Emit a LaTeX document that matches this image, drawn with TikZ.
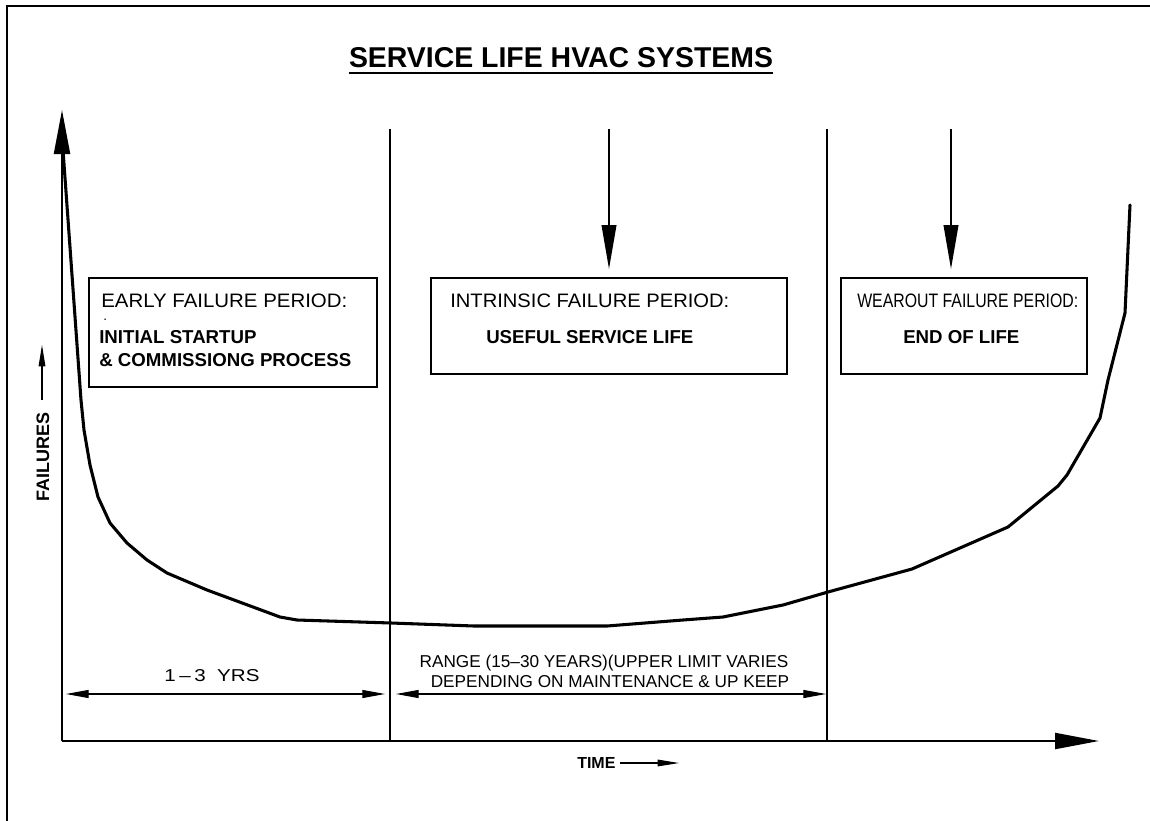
\documentclass[tikz,border=0pt]{standalone}
\usepackage{graphicx}
\usepackage{fontspec}
\setmainfont{Liberation Sans}
\usetikzlibrary{arrows.meta}
\newcommand\fitwidth[2]{\resizebox{#1}{\height}{#2}}
\begin{document}
\begin{tikzpicture}[x=0.75pt,y=-0.75pt,
  frame/.style={line width=2pt},
  axis/.style={line width=1.6pt, -{Triangle[length=33pt,width=12pt]}},
  divider/.style={line width=0.9pt},
  downarrow/.style={line width=1.3pt, -{Triangle[length=33pt,width=11pt]}},
  dimline/.style={line width=0.8pt, {Triangle[length=17pt,width=6pt]}-{Triangle[length=17pt,width=6pt]}},
  smallarrow/.style={line width=0.8pt, -{Triangle[length=16pt,width=5pt]}},
  curve/.style={line width=2.3pt, line join=round, line cap=round},
  pbox/.style={draw, line width=1.1pt, inner sep=0pt},
  hdr/.style={inner sep=0pt, anchor=base west, font=\fontsize{14.6}{16}\selectfont},
  bld/.style={inner sep=0pt, anchor=base west, font=\bfseries\fontsize{14}{16}\selectfont},
  dimtxt/.style={inner sep=0pt, anchor=base, font=\fontsize{12.9}{15}\selectfont},
]
\useasboundingbox (0,0) rectangle (1150,821);
\fill[white] (0,0) rectangle (1150,821);

% outer frame (top and left only)
\coordinate (fTL) at (7,6);
\coordinate (fTR) at (1150,6);
\coordinate (fBL) at (7,821);
\draw[frame] (fTR) -- (fTL) -- (fBL);

% title
\node[inner sep=0pt, anchor=base, font=\bfseries\fontsize{21.5}{24}\selectfont] (title) at (561,67) {\fitwidth{318pt}{SERVICE LIFE HVAC SYSTEMS}};
\draw[line width=1.5pt] ([yshift=-4.5pt]title.base west) -- ([yshift=-4.5pt]title.base east);

% axes
\coordinate (origin) at (62,741);
\coordinate (ytip) at (62,110);
\coordinate (xtip) at (1099,741);
\draw[axis] (origin) -- (ytip);
\draw[axis] (origin) -- (xtip);

% dividers
\coordinate (d1t) at (390,129);
\coordinate (d1b) at (390,741);
\coordinate (d2t) at (827,129);
\coordinate (d2b) at (827,741);
\draw[divider] (d1t) -- (d1b);
\draw[divider] (d2t) -- (d2b);

% boxes
\node[pbox, minimum width=216pt, minimum height=81.75pt] (b1) at (233,332.5) {};
\node[pbox, minimum width=267pt, minimum height=72pt] (b2) at (609,326) {};
\node[pbox, minimum width=184.5pt, minimum height=72pt] (b3) at (964,326) {};

% down arrows
\coordinate (a1s) at (609,129);
\coordinate (a1e) at (609,269);
\coordinate (a2s) at (951,129);
\coordinate (a2e) at (951,269);
\draw[downarrow] (a1s) -- (a1e);
\draw[downarrow] (a2s) -- (a2e);

% box texts
\node[hdr] (t1a) at (101,307) {\fitwidth{184.5pt}{EARLY FAILURE PERIOD:}};
\node[inner sep=0pt, anchor=base west, font=\fontsize{10}{11}\selectfont] (t1dot) at (103,320) {.};
\node[bld] (t1b) at (99,343) {INITIAL STARTUP};
\node[bld] (t1c) at (99,366) {\& COMMISSIONG PROCESS};
\node[hdr] (t2a) at (450,307) {\fitwidth{209.25pt}{INTRINSIC FAILURE PERIOD:}};
\node[bld] (t2b) at (486,343) {USEFUL SERVICE LIFE};
\node[hdr] (t3a) at (857,307) {\fitwidth{165.75pt}{WEAROUT FAILURE PERIOD:}};
\node[bld] (t3b) at (903,343) {END OF LIFE};

% failure curve
\draw[curve] plot coordinates {(63,150) (81,400) (84,430) (90,465) (98,497) (110,523) (127,543) (147,560) (167,573) (207,590) (253,607) (280,617) (297,620) (391,623) (474,626) (607,626) (683,620) (723,617) (783,605) (828,592) (912,569) (1008,527) (1058,486) (1067,475) (1100,418) (1108,380) (1125,313) (1130,205)};

% dimension lines
\coordinate (dm1a) at (66,694);
\coordinate (dm1b) at (385,694);
\coordinate (dm2a) at (396,694);
\coordinate (dm2b) at (826,694);
\draw[dimline] (dm1a) -- (dm1b);
\draw[dimline] (dm2a) -- (dm2b);
\node[dimtxt] (yrs) at (212,681) {\fitwidth{71.25pt}{1\,--\,3\ \ YRS}};
\node[dimtxt] (rng1) at (604,667) {RANGE (15--30 YEARS)(UPPER LIMIT VARIES};
\node[dimtxt] (rng2) at (610,687) {DEPENDING ON MAINTENANCE \& UP KEEP};

% axis labels
\node[inner sep=0pt, anchor=base west, rotate=90, font=\bfseries\fontsize{13.5}{15}\selectfont] (fail) at (49,502) {FAILURES};
\coordinate (fa1) at (42,400);
\coordinate (fa2) at (42,345);
\draw[smallarrow] (fa1) -- (fa2);
\node[inner sep=0pt, anchor=base west, font=\bfseries\fontsize{12}{13}\selectfont] (time) at (577,768) {TIME};
\coordinate (ta1) at (620,763);
\coordinate (ta2) at (679,763);
\draw[smallarrow] (ta1) -- (ta2);
\end{tikzpicture}
\end{document}
